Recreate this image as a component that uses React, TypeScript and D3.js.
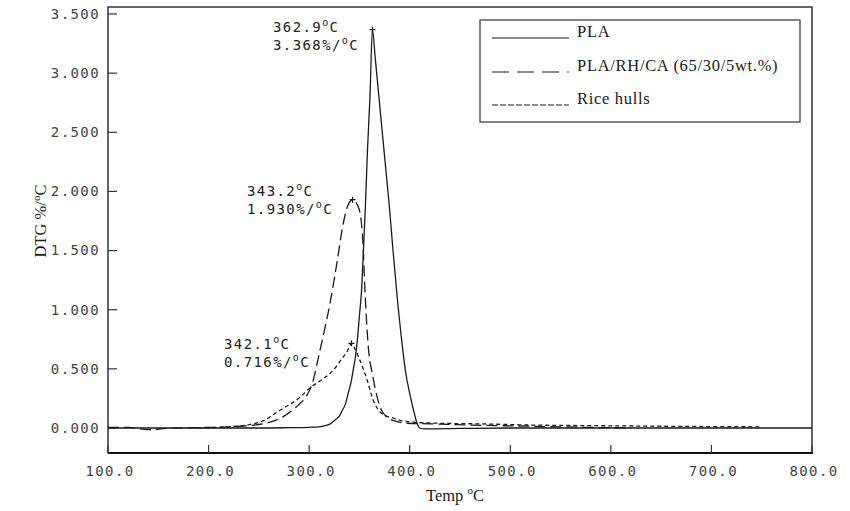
import React, { useEffect, useRef } from 'react';
import * as d3 from 'd3';

// temperatures (°C) and DTG values (%/°C)
const plaTemp = [100, 150, 200, 250, 280, 300, 310, 316, 321, 326, 330, 333, 336, 339, 342, 344, 346, 348, 350, 352, 354, 356, 358, 360.5, 362.9, 365.8, 369.6, 372.5, 375.4, 379.9, 383.4, 387.4, 392.3, 395.8, 400.3, 403.8, 407.3, 410, 415, 450, 500, 600, 700, 800];
const plaDtg = [0, 0, 0, 0, 0.003, 0.006, 0.01, 0.02, 0.035, 0.07, 0.1, 0.15, 0.2, 0.3, 0.4, 0.5, 0.6, 0.75, 0.95, 1.15, 1.5, 1.89, 2.35, 2.8, 3.368, 3.12, 2.78, 2.52, 2.26, 1.86, 1.5, 1.12, 0.72, 0.48, 0.28, 0.15, 0.04, 0.0, -0.008, -0.004, 0, 0, 0, 0];

const blendTemp = [100, 120, 135, 145, 155, 170, 200, 220, 240, 254, 265, 275, 281, 290, 298, 304, 308, 314, 320.7, 327.7, 333.7, 338, 343.2, 347, 350.6, 353.5, 355.5, 358.5, 363.5, 370.5, 377.4, 385, 397, 420, 460, 520, 580, 620];
const blendDtg = [0.005, 0.005, -0.01, -0.015, -0.005, 0, 0.005, 0.01, 0.02, 0.035, 0.06, 0.1, 0.135, 0.2, 0.28, 0.4, 0.55, 0.78, 1.05, 1.4, 1.72, 1.87, 1.93, 1.9, 1.82, 1.56, 1.16, 0.72, 0.43, 0.18, 0.09, 0.06, 0.04, 0.035, 0.025, 0.015, 0.005, 0];

const riceTemp = [190, 205, 220, 238, 254, 271, 291, 301, 311, 320.7, 327, 333.7, 338, 342.1, 346, 350.6, 357.5, 363.5, 370.5, 377, 383.4, 393, 403, 430, 470, 520, 580, 650, 700, 748];
const riceDtg = [0, 0.003, 0.01, 0.025, 0.06, 0.15, 0.26, 0.34, 0.4, 0.46, 0.52, 0.6, 0.65, 0.716, 0.66, 0.57, 0.41, 0.24, 0.135, 0.1, 0.085, 0.06, 0.05, 0.04, 0.035, 0.025, 0.02, 0.015, 0.012, 0.01];

const seriesNames = ['PLA', 'PLA/RH/CA (65/30/5wt.%)', 'Rice hulls'];
const peakTemp = [362.9, 343.2, 342.1];
const peakDtg = [3.368, 1.930, 0.716];

const xTicks = [100, 200, 300, 400, 500, 600, 700, 800];
const yTicks = [0, 0.5, 1, 1.5, 2, 2.5, 3, 3.5];

const W = 850, H = 511;
const monoFont = '"DejaVu Sans Mono", monospace';
const serifFont = '"Liberation Serif", "Times New Roman", serif';
const ink = '#1a1a1a';

const App = () => {
  const svgRef = useRef(null);

  useEffect(() => {
    document.body.style.margin = '0';
    const svg = d3.select(svgRef.current);
    svg.selectAll('*').remove();

    const left = 108, right = 812, top = 7, bottom = 453;
    const x = d3.scaleLinear().domain([100, 800]).range([left, right]);
    // 3.500 sits at y=14, 0.000 at y=428
    const y = d3.scaleLinear().domain([0, 3.5]).range([428, 14]);

    svg.append('rect').attr('width', W).attr('height', H).attr('fill', '#fff');

    // frame
    svg.append('path')
      .attr('d', `M${left},${bottom}V${top}H${right}V${bottom}`)
      .attr('fill', 'none').attr('stroke', '#333').attr('stroke-width', 1.5);
    svg.append('line')
      .attr('x1', left).attr('x2', right + 1).attr('y1', bottom).attr('y2', bottom)
      .attr('stroke', '#111').attr('stroke-width', 2.2);

    // y ticks
    yTicks.forEach(t => {
      svg.append('line')
        .attr('x1', left).attr('x2', left + 9).attr('y1', y(t)).attr('y2', y(t))
        .attr('stroke', '#333').attr('stroke-width', 1.2);
      svg.append('text')
        .attr('x', left - 8).attr('y', y(t)).attr('dy', '0.35em')
        .attr('text-anchor', 'end')
        .style('font-family', monoFont).style('font-size', '14px')
        .style('letter-spacing', '1.4px').attr('fill', '#444')
        .text(d3.format('.3f')(t));
    });

    // x ticks
    xTicks.forEach(t => {
      svg.append('line')
        .attr('x1', x(t)).attr('x2', x(t)).attr('y1', bottom).attr('y2', bottom - 8)
        .attr('stroke', '#333').attr('stroke-width', 1.2);
      svg.append('text')
        .attr('x', x(t) + 2).attr('y', 476)
        .attr('text-anchor', 'middle')
        .style('font-family', monoFont).style('font-size', '14px')
        .style('letter-spacing', '1.4px').attr('fill', '#444')
        .text(d3.format('.1f')(t));
    });

    // axis titles
    const yTitle = svg.append('text')
      .attr('transform', 'translate(46,221) rotate(-90)')
      .attr('text-anchor', 'middle')
      .style('font-family', serifFont).style('font-size', '16.5px').attr('fill', ink);
    yTitle.append('tspan').text('DTG %/');
    yTitle.append('tspan').attr('dy', -6).style('font-size', '11px').text('o');
    yTitle.append('tspan').attr('dy', 6).text('C');

    const xTitle = svg.append('text')
      .attr('x', 455).attr('y', 501).attr('text-anchor', 'middle')
      .style('font-family', serifFont).style('font-size', '16.5px').attr('fill', ink);
    xTitle.append('tspan').text('Temp ');
    xTitle.append('tspan').attr('dy', -7).style('font-size', '11px').text('o');
    xTitle.append('tspan').attr('dy', 7).text('C');

    // curves
    const line = d3.line()
      .x(d => x(d[0]))
      .y(d => y(d[1]))
      .curve(d3.curveMonotoneX);

    const series = [
      { t: plaTemp, v: plaDtg, dash: null },
      { t: blendTemp, v: blendDtg, dash: '11,5' },
      { t: riceTemp, v: riceDtg, dash: '4,3' },
    ];

    series.forEach(s => {
      svg.append('path')
        .datum(s.t.map((t, i) => [t, s.v[i]]))
        .attr('d', line)
        .attr('fill', 'none')
        .attr('stroke', ink)
        .attr('stroke-width', 1.3)
        .attr('stroke-dasharray', s.dash);
    });

    // peak markers and labels
    const labelPos = [[273, 32, 50], [247, 196, 214], [224, 349, 367]];
    peakTemp.forEach((pt, i) => {
      const px = x(pt), py = y(peakDtg[i]);
      svg.append('path')
        .attr('d', `M${px - 3},${py}H${px + 3}M${px},${py - 3}V${py + 3}`)
        .attr('stroke', ink).attr('stroke-width', 1.2);

      const [lx, ly1, ly2] = labelPos[i];
      const t1 = svg.append('text').attr('x', lx).attr('y', ly1)
        .style('font-family', monoFont).style('font-size', '14px')
        .style('letter-spacing', '1.4px').attr('fill', '#222');
      t1.append('tspan').text(pt.toFixed(1));
      t1.append('tspan').attr('dy', -6).style('font-size', '10px').text('o');
      t1.append('tspan').attr('dy', 6).text('C');

      const t2 = svg.append('text').attr('x', lx).attr('y', ly2)
        .style('font-family', monoFont).style('font-size', '14px')
        .style('letter-spacing', '1.4px').attr('fill', '#222');
      t2.append('tspan').text(peakDtg[i].toFixed(3) + '%/');
      t2.append('tspan').attr('dy', -6).style('font-size', '10px').text('o');
      t2.append('tspan').attr('dy', 6).text('C');
    });

    // legend
    svg.append('rect')
      .attr('x', 480).attr('y', 20).attr('width', 320).attr('height', 102)
      .attr('fill', '#fff').attr('stroke', '#333').attr('stroke-width', 1.2);
    const legendDash = [null, '17,8', '6,2'];
    const legendY = [38, 72, 105];
    seriesNames.forEach((name, i) => {
      svg.append('line')
        .attr('x1', 492).attr('x2', 569)
        .attr('y1', legendY[i]).attr('y2', legendY[i])
        .attr('stroke', ink).attr('stroke-width', 1.2)
        .attr('stroke-dasharray', legendDash[i]);
      svg.append('text')
        .attr('x', 577).attr('y', legendY[i] - 1)
        .style('font-family', serifFont).style('font-size', '16.5px')
        .style('letter-spacing', '0.7px').attr('fill', ink)
        .text(name);
    });
  }, []);

  return (
    <svg ref={svgRef} width={W} height={H} style={{ display: 'block' }}></svg>
  );
};

export default App;
